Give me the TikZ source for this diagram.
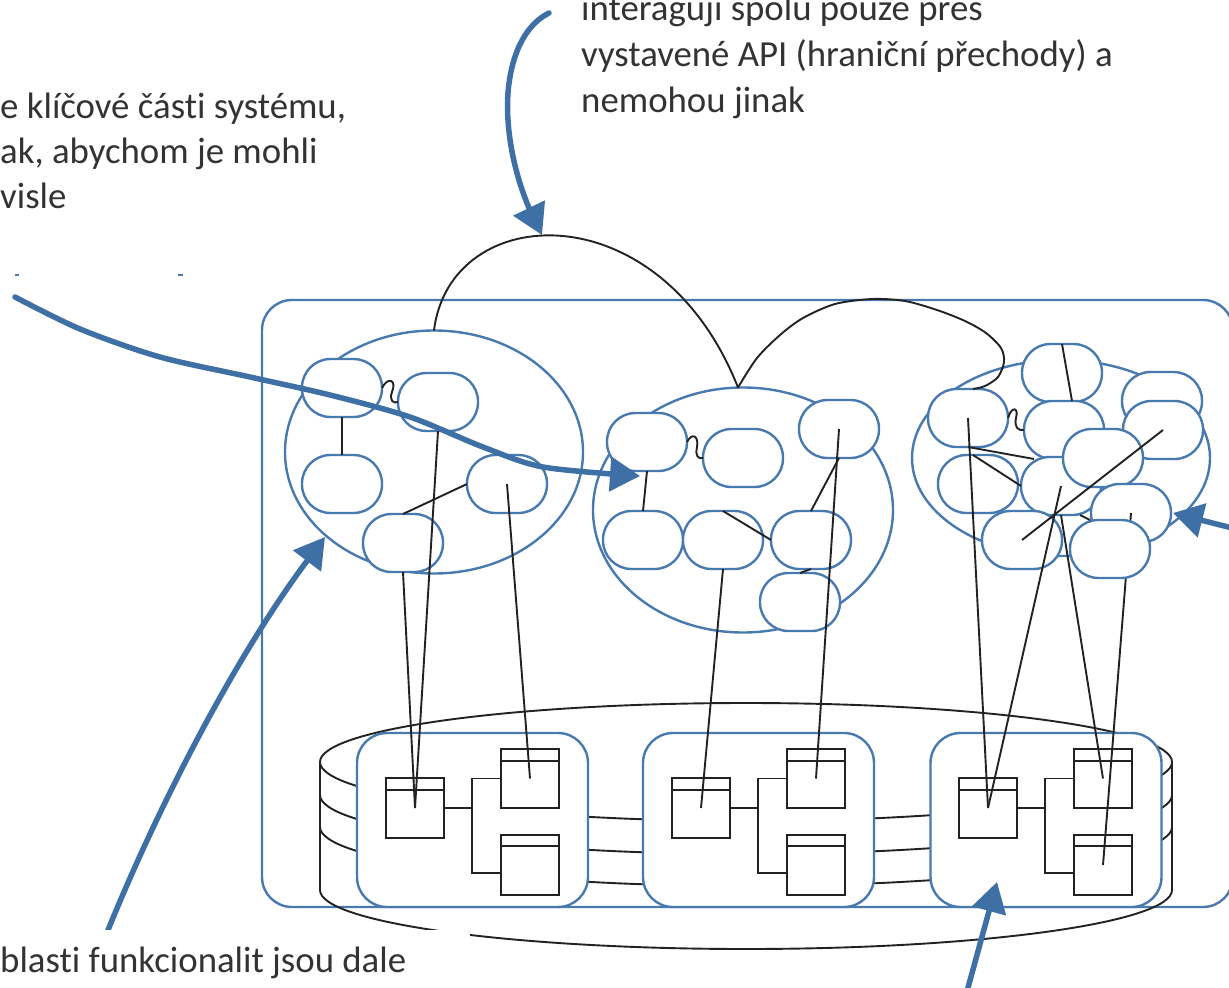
\documentclass[tikz,border=0pt]{standalone}
\usepackage{fontspec}
\setmainfont{Carlito}[Ligatures=NoCommon]
\usetikzlibrary{shapes.geometric,arrows.meta}
\definecolor{obl}{RGB}{72,122,176}
\definecolor{abl}{RGB}{62,112,166}
\definecolor{txtc}{RGB}{51,51,51}
\definecolor{lnc}{RGB}{34,34,34}
\begin{document}
\begin{tikzpicture}[x=1pt,y=-1pt,
  oval/.style={rectangle,draw=obl,line width=2.4pt,fill=white,rounded corners=28.5pt,minimum width=80pt,minimum height=58pt,inner sep=0pt,outer sep=0pt},
  ell/.style={ellipse,draw=obl,line width=2.4pt,fill=white,inner sep=0pt,outer sep=0pt},
  boxx/.style={rectangle,draw=obl,line width=2.4pt,fill=white,rounded corners=30pt,minimum width=231pt,minimum height=174pt,inner sep=0pt,outer sep=0pt},
  cls/.style={rectangle,draw=lnc,line width=1.8pt,fill=white,minimum width=58pt,minimum height=60pt,inner sep=0pt,outer sep=0pt},
  con/.style={draw=lnc,line width=1.9pt},
  ann/.style={draw=abl,line width=5.5pt,-{Triangle[length=30pt,width=34pt]}},
  txt/.style={text=txtc,font=\fontsize{36.8}{46}\selectfont,inner sep=0pt,anchor=base west}]
\useasboundingbox (0,0) rectangle (1229,988);
\clip (0,0) rectangle (1229,988);

% system container
\node[rectangle,draw=obl,line width=2.4pt,fill=white,rounded corners=30pt,minimum width=971pt,minimum height=607pt,inner sep=0pt] (sys) at (747.5,603.5) {};

% database cylinder
\begin{scope}[con]
  \draw (320,762) arc[start angle=180,end angle=360,x radius=426,y radius=59];
  \draw (320,762) -- (320,890);
  \draw (1172,762) -- (1172,890);
  \foreach \c in {762,795,827,890}{
    \draw (320,\c) arc[start angle=180,end angle=0,x radius=426,y radius=59];
  }
\end{scope}

% modules in the database
\node[boxx] (box1) at (472.5,820) {};
\node[boxx] (box2) at (758.5,820) {};
\node[boxx] (box3) at (1046,820) {};

\foreach \i/\dx in {1/0,2/286,3/573}{
  \node[cls] (ca\i) at (415+\dx,808) {};
  \node[cls,minimum height=59pt] (cb\i) at (530+\dx,778.5) {};
  \node[cls] (cc\i) at (530+\dx,865) {};
  \draw[con] ([yshift=-12pt]ca\i.north west) -- ([yshift=-12pt]ca\i.north east);
  \draw[con] ([yshift=-12pt]cb\i.north west) -- ([yshift=-12pt]cb\i.north east);
  \draw[con] ([yshift=-11pt]cc\i.north west) -- ([yshift=-11pt]cc\i.north east);
  \draw[con] (ca\i.east) -- ++(28,0);
  \draw[con] (cb\i.west) -- ++(-29,0) |- ([yshift=-8pt]cc\i.west);
}

% cluster 1
\node[ell,minimum width=298pt,minimum height=243pt] (e1) at (434,452) {};
\node[oval] (o1) at (342,388) {};
\node[oval] (o2) at (438,402) {};
\node[oval] (o3) at (342,484) {};
\node[oval] (o4) at (507,484) {};
\node[oval] (o5) at (403,543) {};

% cluster 2
\node[ell,minimum width=300pt,minimum height=245pt] (e2) at (743,510) {};
\node[oval] (p1) at (647,442) {};
\node[oval] (p2) at (743,458) {};
\node[oval] (p3) at (839,429) {};
\node[oval] (p4) at (643,540) {};
\node[oval] (p5) at (723,540) {};
\node[oval] (p6) at (811,540) {};
\node[oval] (p7) at (800,602) {};

% cluster 3
\node[ell,minimum width=298pt,minimum height=196pt] (e3) at (1061,458) {};
\node[oval] (q1) at (968,418) {};
\node[oval] (q2) at (1062,373) {};
\node[oval] (q3) at (1162,401) {};
\node[oval] (q4) at (1064,430) {};
\node[oval] (q5) at (1163,430) {};
\node[oval] (q7) at (978,484) {};
\node[oval] (q8) at (1061,486) {};
\node[oval] (q6) at (1103,458) {};
\node[oval] (q9) at (1131,513) {};
\node[oval] (q10) at (1022,540) {};
\draw[con] (q9.center) -- (cc3.center);
\node[oval] (q11) at (1110,549) {};

% links inside cluster 1
\draw[con] (o1.south) -- (o3.north);
\draw[con] (o4.west) -- (o5.north);
\draw[con] (o1.east) .. controls (388,376) and (397,380) .. (392,392) .. controls (389,400) and (393,404) .. (o2.west);
\draw[con] (o5.south) -- (ca1.center);
\draw[con] (o2.south) -- (ca1.center);
\draw[con] (o4.center) -- (cb1.center);

% links inside cluster 2
\draw[con] (p1.south) -- (p4.north);
\draw[con] (p5.north) -- (p6.west);
\draw[con] (p6.north) -- (p3.south);
\draw[con] (p7.north) -- (p6.south);
\draw[con] (p1.east) .. controls (692,432) and (699,436) .. (697,447) .. controls (695,456) and (698,459) .. (p2.west);
\draw[con] (p5.south) -- (ca2.center);
\draw[con] (p3.center) -- (cb2.center);

% links inside cluster 3
\draw[con] (q1.east) .. controls (1012,405) and (1019,408) .. (1016,418) .. controls (1014,427) and (1018,431) .. (q4.west);
\draw[con] (q2.north) -- ([xshift=8pt]q4.north);
\draw[con] (q1.south) -- ([xshift=10pt]q4.south west);
\draw[con] ([xshift=-5pt]q7.north) -- (q8.west);
\draw[con] (q5.center) -- (q10.center);
\draw[con] ([xshift=-21pt]q8.south east) -- ([xshift=20pt]q11.north west);
\draw[con] (q1.center) -- (ca3.center);
\draw[con] (q8.center) -- (ca3.center);
\draw[con] (q8.south) -- (cb3.center);

% API crossings between clusters
\coordinate (v) at ([xshift=-5pt]e2.north);
\coordinate (w) at ([xshift=5pt]q1.north);
\draw[con] (e1.north) .. controls (450,200) and (660,190) .. (v);
\draw[con] plot[smooth] coordinates {(v) (757,358) (780,335) (803,318) (835,304) (872,299) (905,301) (937,310) (965,321) (986,333) (1001,348) (1004,362) (998,377) (985,386) (w)};

% annotation arrows
\coordinate (aAs) at (549,13);  \coordinate (aAt) at (542,235);
\coordinate (aBs) at (15,297);  \coordinate (aBt) at (640,476);
\coordinate (aCs) at (104,940); \coordinate (aCt) at (325,537);
\coordinate (aDs) at (1240,530); \coordinate (aDt) at (1173,513);
\coordinate (aEs) at (966,995); \coordinate (aEt) at (997,882);
\draw[ann,line cap=round] (aAs) .. controls (515,30) and (505,80) .. (508,120) .. controls (511,170) and (530,210) .. (aAt);
\draw[ann,line cap=round] plot[smooth] coordinates {(aBs) (80,329) (160,357) (250,377) (330,395) (410,417) (483,447) (543,467) (aBt)};
\draw[ann] (aCs) .. controls (160,800) and (240,650) .. (aCt);
\draw[ann] (aDs) -- (aDt);
\draw[ann] (aEs) -- (aEt);

% small marks
\draw[obl,line width=2pt] (15,275) -- (19,275);
\draw[obl,line width=2pt] (178,275) -- (183,275);

% text boxes
\fill[white] (0,930) rectangle (470,988);
\node[txt] (l1) at (0,118) {e klíčové části systému,};
\node[txt] (l2) at (0,163) {ak, abychom je mohli};
\node[txt] (l3) at (0,208) {visle};
\node[txt] (r1) at (581,20) {interagují spolu pouze přes};
\node[txt] (r2) at (581,66) {vystavené API (hraniční přechody) a};
\node[txt] (r3) at (581,112) {nemohou jinak};
\node[txt] (b1) at (0,972) {blasti funkcionalit jsou dale};
\end{tikzpicture}
\end{document}
